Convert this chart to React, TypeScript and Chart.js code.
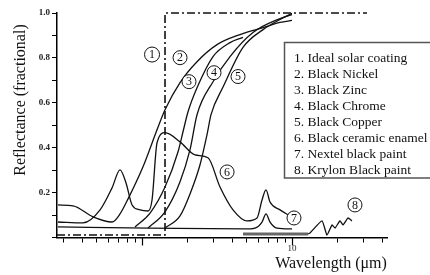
import React, { useEffect, useRef } from 'react';
import { Chart, registerables } from 'chart.js';
Chart.register(...registerables);

// ---- data (wavelength in µm, reflectance fractional) ----
const idealWl = [0.271, 1.423, 1.423, 31.62];
const idealR = [0.011, 0.011, 1.0, 1.0];

const nickelWl = [0.275, 0.347, 0.471, 0.631, 0.713, 0.807, 1.015, 1.259, 1.423, 1.792, 2.326, 3.162, 4.501, 6.408, 8.318, 10];
const nickelR = [0.145, 0.141, 0.092, 0.069, 0.105, 0.172, 0.315, 0.48, 0.569, 0.69, 0.783, 0.859, 0.904, 0.935, 0.958, 0.967];

const zincWl = [0.898, 1.131, 1.423, 1.738, 1.876, 2.026, 2.326, 2.974, 3.861, 4.713];
const zincR = [0.047, 0.109, 0.225, 0.382, 0.471, 0.56, 0.667, 0.806, 0.868, 0.891];

const chromeWl = [1.096, 1.423, 1.792, 2.089, 2.326, 2.974, 3.861, 5.495, 8.318, 10];
const chromeR = [0.042, 0.114, 0.248, 0.391, 0.547, 0.694, 0.806, 0.913, 0.975, 0.993];

const copperWl = [1.423, 1.792, 2.089, 2.436, 2.712, 2.884, 3.467, 4.713, 6.408, 8.318, 10];
const copperR = [0.042, 0.096, 0.194, 0.324, 0.458, 0.547, 0.67, 0.847, 0.926, 0.971, 0.998];

const enamelWl = [0.275, 0.404, 0.525, 0.631, 0.713, 0.782, 0.858, 0.97, 1.096, 1.166, 1.259, 1.423, 1.792, 2.255, 2.754, 3.311, 4.043, 5.012, 5.845, 6.31, 6.709, 7.135, 8.318, 9.698];
const enamelR = [0.069, 0.065, 0.123, 0.221, 0.301, 0.243, 0.145, 0.123, 0.118, 0.167, 0.422, 0.467, 0.426, 0.368, 0.355, 0.225, 0.123, 0.074, 0.087, 0.167, 0.212, 0.158, 0.123, 0.096];

const nextelWl = [0.275, 1.131, 4.861, 5.663, 6.31, 6.709, 7.135, 7.943, 10];
const nextelR = [0.047, 0.042, 0.038, 0.042, 0.069, 0.105, 0.069, 0.042, 0.038];

const krylonBaseWl = [4.713, 12.79];
const krylonBaseR = [0.016, 0.016];
const krylonWl = [12.79, 13.18, 15.85, 17.11, 18.48, 19.35, 20.89, 21.88, 23.62, 25.12];
const krylonR = [0.016, 0.02, 0.074, 0.011, 0.056, 0.042, 0.074, 0.056, 0.087, 0.074];

const legendItems = [
  '1. Ideal solar coating',
  '2. Black Nickel',
  '3. Black Zinc',
  '4. Black Chrome',
  '5. Black Copper',
  '6. Black ceramic enamel',
  '7. Nextel black paint',
  '8. Krylon Black paint',
];

// circle label annotations: number, wavelength, reflectance
const labelNums = ['1', '2', '3', '4', '5', '6', '7', '8'];
const labelWl = [1.166, 1.792, 2.057, 3.02, 4.365, 3.69, 10.31, 26.3];
const labelR = [0.815, 0.801, 0.694, 0.734, 0.717, 0.292, 0.087, 0.145];

const xTickValues = [0.3, 0.4, 0.5, 0.6, 0.7, 0.8, 0.9, 1, 2, 3, 4, 5, 6, 7, 8, 9, 10, 20, 30, 40];
const xMajorTicks = [1, 10];
const xLabeledTicks = [10];
const yTickValues = [0, 0.1, 0.2, 0.3, 0.4, 0.5, 0.6, 0.7, 0.8, 0.9, 1.0];
const yLabeledTicks = [0.2, 0.4, 0.6, 0.8, 1.0];

const X_MIN = 0.271;
const X_MAX = 43;

const SERIF = '"Liberation Serif", "Times New Roman", serif';

function pts(xs: number[], ys: number[]) {
  return xs.map((x, i) => ({ x, y: ys[i] }));
}

export default function App() {
  const ref = useRef<HTMLCanvasElement | null>(null);

  useEffect(() => {
    if (!ref.current) return;

    const overlay = {
      id: 'overlay',
      afterDraw(chart: any) {
        const ctx = chart.ctx as CanvasRenderingContext2D;
        const xs = chart.scales.x;
        const ys = chart.scales.y;
        const area = chart.chartArea;
        ctx.save();
        // longer major ticks
        ctx.strokeStyle = '#000';
        ctx.lineWidth = 1.2;
        xMajorTicks.forEach((v) => {
          const px = Math.round(xs.getPixelForValue(v)) + 0.5;
          ctx.beginPath();
          ctx.moveTo(px, area.bottom);
          ctx.lineTo(px, area.bottom + 8);
          ctx.stroke();
        });

        // axis titles
        ctx.fillStyle = '#111';
        ctx.font = `16px ${SERIF}`;
        ctx.textAlign = 'center';
        ctx.textBaseline = 'middle';
        ctx.save();
        ctx.translate(21, 100);
        ctx.rotate(-Math.PI / 2);
        ctx.fillText('Reflectance (fractional)', 0, 0);
        ctx.restore();
        ctx.fillText('Wavelength (\u03BCm)', 331, 264);

        // legend box
        ctx.strokeStyle = '#555';
        ctx.lineWidth = 1.5;
        ctx.strokeRect(284.5, 42.5, 160, 135.5);
        ctx.fillStyle = '#111';
        ctx.font = `13.5px ${SERIF}`;
        ctx.textAlign = 'left';
        legendItems.forEach((t, i) => {
          ctx.fillText(t, 294, 58 + i * 16.1);
        });

        // circled number labels
        ctx.strokeStyle = '#111';
        ctx.lineWidth = 1;
        ctx.font = `12px ${SERIF}`;
        ctx.textAlign = 'center';
        labelNums.forEach((n, i) => {
          const px = xs.getPixelForValue(labelWl[i]);
          const py = ys.getPixelForValue(labelR[i]);
          ctx.fillStyle = '#fff';
          ctx.beginPath();
          ctx.arc(px, py, i === 0 ? 7.5 : 7, 0, Math.PI * 2);
          ctx.fill();
          ctx.stroke();
          ctx.fillStyle = '#111';
          ctx.fillText(n, px, py + 0.5);
        });
        ctx.restore();
      },
    };

    const curve = (data: any, extra: any = {}) => ({
      data,
      borderColor: '#111',
      borderWidth: 1.3,
      pointRadius: 0,
      fill: false,
      clip: false,
      cubicInterpolationMode: 'monotone',
      ...extra,
    });

    const chart = new Chart(ref.current, {
      type: 'line',
      data: {
        datasets: [
          curve(pts(idealWl, idealR), { borderWidth: 1.6, borderDash: [8, 3, 2, 3], cubicInterpolationMode: 'default', tension: 0 }),
          curve(pts(nickelWl, nickelR)),
          curve(pts(zincWl, zincR)),
          curve(pts(chromeWl, chromeR)),
          curve(pts(copperWl, copperR)),
          curve(pts(enamelWl, enamelR)),
          curve(pts(nextelWl, nextelR)),
          curve(pts(krylonBaseWl, krylonBaseR), { borderColor: '#666', borderWidth: 3, cubicInterpolationMode: 'default', tension: 0 }),
          curve(pts(krylonWl, krylonR), { cubicInterpolationMode: 'default', tension: 0.15 }),
        ] as any,
      },
      options: {
        animation: false,
        responsive: false,
        maintainAspectRatio: false,
        layout: { padding: { left: 0, top: 13, right: 43, bottom: 0 } },
        plugins: { legend: { display: false }, tooltip: { enabled: false }, title: { display: false } },
        scales: {
          x: {
            type: 'logarithmic',
            min: X_MIN,
            max: X_MAX,
            afterBuildTicks: (s: any) => {
              s.ticks = xTickValues.map((v) => ({ value: v, major: xMajorTicks.includes(v) }));
            },
            afterFit: (s: any) => {
              s.height = 37.5;
            },
            ticks: {
              autoSkip: false,
              maxRotation: 0,
              padding: 1,
              color: '#222',
              font: { family: SERIF, size: 9 },
              callback: (v: any) => (xLabeledTicks.includes(Number(v)) ? String(v) : ''),
            },
            grid: { drawOnChartArea: false, drawTicks: true, tickLength: 5, color: '#000', lineWidth: 1 },
            border: { display: true, color: '#000', width: 1.5 },
          },
          y: {
            type: 'linear',
            min: 0,
            max: 1,
            afterBuildTicks: (s: any) => {
              s.ticks = yTickValues.map((v) => ({ value: v }));
            },
            afterFit: (s: any) => {
              s.width = 57;
            },
            ticks: {
              autoSkip: false,
              padding: 2,
              color: '#222',
              font: { family: SERIF, size: 9, weight: 'bold' },
              callback: (v: any) => (yLabeledTicks.includes(Number(v)) ? Number(v).toFixed(1) : ''),
            },
            grid: { drawOnChartArea: false, drawTicks: true, tickLength: 5, color: '#000', lineWidth: 1 },
            border: { display: true, color: '#000', width: 1.5 },
          },
        },
      },
      plugins: [overlay],
    } as any);

    return () => chart.destroy();
  }, []);

  return (
    <div style={{ position: 'fixed', left: 0, top: 0, width: 430, height: 275, background: '#fff', overflow: 'hidden' }}>
      <canvas ref={ref} width={430} height={275} style={{ display: 'block' }} />
    </div>
  );
}
